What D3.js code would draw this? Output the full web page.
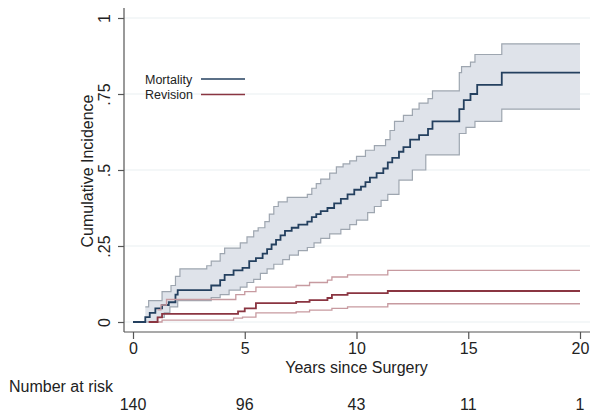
<!DOCTYPE html>
<html>
<head>
<meta charset="utf-8">
<script src="https://cdn.jsdelivr.net/npm/d3@7"></script>
<style>
  body { margin: 0; background: #fff; }
  svg { font-family: "Liberation Sans", Arial, sans-serif; }
</style>
</head>
<body>
<svg id="chart" width="600" height="420"></svg>
<script>
// axis / table values
const xTicks = [0, 5, 10, 15, 20];
const yTicks = [0, 0.25, 0.5, 0.75, 1];
const yTickLabels = ["0", ".25", ".5", ".75", "1"];
const atRisk = [140, 96, 43, 11, 1];
const seriesNames = ["Mortality", "Revision"];

// step points [years, cumulative incidence]
const mortality = [[0,0],[0.55,0.016],[0.75,0.03],[1.0,0.045],[1.3,0.056],[1.6,0.065],[1.9,0.09],[2.0,0.105],
  [3.5,0.12],[3.9,0.138],[4.1,0.155],[4.5,0.17],[4.9,0.178],[5.2,0.2],[5.5,0.21],[5.8,0.225],[6.0,0.24],
  [6.2,0.255],[6.4,0.27],[6.6,0.285],[6.8,0.3],[7.1,0.31],[7.4,0.32],[7.8,0.33],[8.0,0.345],[8.2,0.355],
  [8.4,0.365],[8.7,0.375],[9.0,0.39],[9.3,0.405],[9.6,0.42],[9.9,0.435],[10.2,0.445],[10.4,0.46],[10.6,0.475],
  [10.9,0.49],[11.2,0.505],[11.4,0.525],[11.6,0.54],[11.9,0.56],[12.1,0.575],[12.4,0.6],[12.8,0.615],
  [13.2,0.635],[13.4,0.66],[14.6,0.7],[14.8,0.73],[15.1,0.75],[15.4,0.78],[16.5,0.82],[20,0.82]];
const mortalityUpper = [[0.55,0.05],[0.7,0.07],[1.3,0.1],[1.7,0.12],[1.9,0.15],[2.1,0.175],[3.3,0.185],
  [3.5,0.2],[3.9,0.225],[4.1,0.243],[4.8,0.26],[5.1,0.28],[5.4,0.3],[5.6,0.31],[5.9,0.33],[6.1,0.355],
  [6.3,0.38],[6.5,0.395],[6.9,0.41],[7.8,0.42],[8.0,0.44],[8.2,0.455],[8.4,0.47],[8.8,0.49],[9.1,0.51],
  [9.4,0.52],[9.7,0.53],[10.0,0.545],[10.4,0.565],[10.8,0.58],[11.3,0.6],[11.5,0.63],[11.7,0.66],
  [12.1,0.68],[12.5,0.7],[12.8,0.72],[13.2,0.735],[13.4,0.76],[14.6,0.82],[14.7,0.84],[15.1,0.855],
  [15.3,0.88],[16.5,0.915],[20,0.915]];
const mortalityLower = [[0.55,0],[1.1,0.015],[1.4,0.03],[1.65,0.05],[2.0,0.07],[3.5,0.08],[3.9,0.09],
  [4.3,0.105],[4.8,0.115],[5.1,0.13],[5.4,0.14],[5.7,0.16],[6.0,0.175],[6.3,0.19],[6.7,0.205],[7.0,0.22],
  [7.4,0.235],[7.8,0.245],[8.1,0.26],[8.4,0.275],[8.8,0.29],[9.3,0.305],[9.7,0.32],[10.0,0.335],
  [10.5,0.36],[10.8,0.38],[11.1,0.4],[11.4,0.42],[11.9,0.467],[12.5,0.5],[13.1,0.55],[14.6,0.62],
  [14.9,0.64],[15.3,0.66],[16.5,0.7],[20,0.7]];
const revision = [[0.7,0],[1.1,0.015],[1.3,0.027],[4.7,0.035],[5.0,0.045],[5.5,0.062],[7.3,0.066],
  [7.9,0.072],[8.7,0.079],[8.9,0.089],[9.6,0.095],[11.4,0.102],[20,0.102]];
const revisionUpper = [[1.1,0.04],[1.25,0.056],[1.5,0.074],[4.6,0.09],[5.0,0.1],[5.5,0.115],[7.3,0.12],
  [7.9,0.13],[8.7,0.138],[8.9,0.148],[9.6,0.155],[11.4,0.17],[20,0.17]];
const revisionLower = [[1.1,0],[1.3,0.006],[4.5,0.013],[4.9,0.016],[5.5,0.03],[7.3,0.033],[7.9,0.039],
  [8.9,0.045],[9.6,0.05],[11.4,0.06],[20,0.06]];

const svg = d3.select('#chart');

const x = d3.scaleLinear().domain([0, 20]).range([133, 580]);
const y = d3.scaleLinear().domain([0, 1]).range([322, 18]);
const plotLeft = 124, plotRight = 590, plotTop = 8, plotBottom = 332;

// light horizontal grid
svg.append('g')
  .selectAll('line')
  .data(yTicks)
  .enter()
  .append('line')
  .attr('x1', plotLeft)
  .attr('x2', plotRight)
  .attr('y1', d => y(d))
  .attr('y2', d => y(d))
  .attr('stroke', '#e9eff1')
  .attr('stroke-width', 1);

// value of a step function at time t
function valueAt(pts, t) {
  let v = pts[0][1];
  for (const p of pts) if (p[0] <= t) v = p[1];
  return v;
}

const bandTimes = Array.from(new Set(mortalityUpper.map(d => d[0]).concat(mortalityLower.map(d => d[0]))))
  .sort((a, b) => a - b);
const band = bandTimes.map(t => ({ t: t, hi: valueAt(mortalityUpper, t), lo: valueAt(mortalityLower, t) }));

svg.append('path')
  .datum(band)
  .attr('fill', '#dfe3ea')
  .attr('d', d3.area()
    .x(d => x(d.t))
    .y0(d => y(d.lo))
    .y1(d => y(d.hi))
    .curve(d3.curveStepAfter));

const step = d3.line()
  .x(d => x(d[0]))
  .y(d => y(d[1]))
  .curve(d3.curveStepAfter);

function drawLine(pts, color, w) {
  svg.append('path')
    .datum(pts)
    .attr('fill', 'none')
    .attr('stroke', color)
    .attr('stroke-width', w)
    .attr('d', step);
}

drawLine(mortalityUpper, '#9ea6b0', 1.2);
drawLine(mortalityLower, '#9ea6b0', 1.2);
drawLine(mortality, '#24405f', 1.8);
drawLine(revisionUpper, '#c79aa0', 1.3);
drawLine(revisionLower, '#c79aa0', 1.3);
drawLine(revision, '#8a3541', 1.8);

// axes
const axisColor = '#555';
svg.append('line')
  .attr('x1', plotLeft).attr('x2', plotLeft)
  .attr('y1', plotTop).attr('y2', plotBottom)
  .attr('stroke', axisColor).attr('stroke-width', 1.2);
svg.append('line')
  .attr('x1', plotLeft).attr('x2', plotRight)
  .attr('y1', plotBottom).attr('y2', plotBottom)
  .attr('stroke', axisColor).attr('stroke-width', 1.2);

const yAxis = svg.append('g')
  .attr('transform', `translate(${plotLeft},0)`)
  .call(d3.axisLeft(y).tickValues(yTicks).tickSize(6).tickSizeOuter(0).tickFormat((d, i) => yTickLabels[i]));
yAxis.select('.domain').remove();
yAxis.selectAll('.tick line').attr('stroke', axisColor).attr('stroke-width', 1.2);
yAxis.selectAll('.tick text')
  .attr('x', 0).attr('dy', 0)
  .attr('transform', 'translate(-14,0) rotate(-90)')
  .attr('text-anchor', 'middle')
  .attr('font-size', '16px')
  .attr('fill', '#222');

const xAxis = svg.append('g')
  .attr('transform', `translate(0,${plotBottom})`)
  .call(d3.axisBottom(x).tickValues(xTicks).tickSize(7).tickSizeOuter(0).tickFormat(d3.format('d')));
xAxis.select('.domain').remove();
xAxis.selectAll('.tick line').attr('stroke', axisColor).attr('stroke-width', 1.2);
xAxis.selectAll('.tick text')
  .attr('y', 0).attr('dy', 0)
  .attr('transform', 'translate(0,22)')
  .attr('font-size', '16px')
  .attr('fill', '#222');

// axis titles
svg.append('text')
  .attr('transform', 'translate(93,171) rotate(-90)')
  .attr('text-anchor', 'middle')
  .attr('font-size', '16px')
  .attr('fill', '#222')
  .text('Cumulative Incidence');

svg.append('text')
  .attr('x', x(10))
  .attr('y', 373)
  .attr('text-anchor', 'middle')
  .attr('font-size', '16px')
  .attr('fill', '#222')
  .text('Years since Surgery');

// number at risk table
svg.append('text')
  .attr('x', 9)
  .attr('y', 392)
  .attr('font-size', '16px')
  .attr('fill', '#222')
  .text('Number at risk');

svg.append('g')
  .selectAll('text')
  .data(atRisk)
  .enter()
  .append('text')
  .attr('x', (d, i) => x(xTicks[i]))
  .attr('y', 410)
  .attr('text-anchor', 'middle')
  .attr('font-size', '16px')
  .attr('fill', '#222')
  .text(d => d);

// legend
const legendColors = ['#24405f', '#8a3541'];
const legend = svg.append('g');
seriesNames.forEach((name, i) => {
  const ly = 79 + i * 15.5;
  legend.append('text')
    .attr('x', 145)
    .attr('y', ly + 4.5)
    .attr('font-size', '12.5px')
    .attr('fill', '#222')
    .text(name);
  legend.append('line')
    .attr('x1', 201).attr('x2', 245)
    .attr('y1', ly).attr('y2', ly)
    .attr('stroke', legendColors[i])
    .attr('stroke-width', 1.6);
});
</script>
</body>
</html>
